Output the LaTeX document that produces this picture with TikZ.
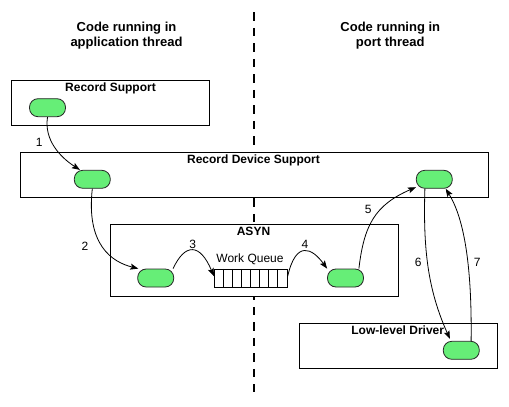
\documentclass[tikz,border=0pt]{standalone}
\usepackage{fontspec}
\setmainfont{Liberation Sans}
\usetikzlibrary{arrows.meta}
\definecolor{pillgreen}{RGB}{102,238,119}
\begin{document}
\begin{tikzpicture}[x=1pt,y=-1pt,
  layer/.style={draw=black,fill=white,line width=0.8pt,inner sep=0pt},
  layertitle/.style={font=\bfseries\fontsize{12}{14}\selectfont,anchor=base,inner sep=0pt},
  colhead/.style={font=\bfseries\fontsize{13}{15}\selectfont,anchor=base,inner sep=0pt},
  pill/.style={draw=black!85,fill=pillgreen,line width=0.8pt,rounded corners=8.5pt,
    minimum width=36pt,minimum height=18pt,inner sep=0pt},
  flow/.style={line width=0.8pt,-{Stealth[length=8pt,width=6pt,inset=1.5pt]}},
  stepno/.style={font=\fontsize{12}{14}\selectfont,inner sep=0pt},
  threadsep/.style={line width=2pt,dash pattern=on 8.5pt off 7pt}]
\useasboundingbox (0,0) rectangle (509,407);

% column headings
\node[colhead] (hl1) at (126.5,31) {Code running in};
\node[colhead] (hl2) at (126.5,46) {application thread};
\node[colhead] (hr1) at (390.3,31) {Code running in};
\node[colhead] (hr2) at (390.3,46) {port thread};

% boundary between the two threads
\coordinate (septop) at (254,12.3);
\coordinate (sepbot) at (254,392);
\draw[threadsep] (septop) -- (sepbot);

% software layers
\node[layer,minimum width=198pt,minimum height=45pt] (rs) at (110.7,102.8) {};
\node[layertitle] (rst) at (110.5,91.5) {Record Support};

\node[layer,minimum width=468pt,minimum height=45pt] (rds) at (254.7,174.8) {};
\node[layertitle] (rdst) at (253.5,163.3) {Record Device Support};

\node[layer,minimum width=288pt,minimum height=71.7pt] (asyn) at (254.7,260.2) {};
\node[layertitle] (asynt) at (253.5,235.3) {ASYN};

\node[layer,minimum width=198pt,minimum height=45pt] (lld) at (398.3,345.8) {};
\node[layertitle] (lldt) at (397.7,334.3) {Low-level Driver};

% work queue with eight slots
\node[draw=black,line width=0.8pt,minimum width=73pt,minimum height=17.7pt,inner sep=0pt] (queue) at (250.8,278.2) {};
\foreach \i in {1,...,7}
  \draw[line width=0.6pt] ([xshift=\i*9.125pt]queue.north west) -- ([xshift=\i*9.125pt]queue.south west);
\node[font=\fontsize{12}{14}\selectfont,anchor=base,inner sep=0pt] (wq) at (250,262.7) {Work Queue};

% entry points
\node[pill] (rsp) at (47.5,107.7) {};
\node[pill] (rdsL) at (92.3,179.3) {};
\node[pill] (rdsR) at (434.3,179.3) {};
\node[pill] (asL) at (155.7,278) {};
\node[pill] (asR) at (345.5,278) {};
\node[pill] (lldp) at (461.3,350.3) {};

% call sequence
\draw[flow] (rsp.south) .. controls (44,140) and (60,157) .. ([xshift=6pt]rdsL.north west);
\draw[flow] (rdsL.south) .. controls (86,245) and (112,262) .. ([xshift=1pt]asL.north west);
\draw[flow] ([xshift=-1pt]asL.north east) .. controls (185,243) and (200,243) .. ([yshift=2pt]queue.west);
\draw[flow] ([yshift=2pt]queue.east) .. controls (296,240) and (312,248) .. (asR.north west);
\draw[flow] ([xshift=-5pt]asR.north east) .. controls (364,225) and (375,205) .. ([yshift=1.5pt]rdsR.south west);
\draw[flow] ([xshift=9pt]rdsR.south west) .. controls (423,250) and (428,290) .. ([xshift=7pt,yshift=2pt]lldp.north west);
\draw[flow] ([xshift=-8.6pt]lldp.north east) .. controls (472,270) and (465,220) .. ([xshift=-7pt]rdsR.south east);

% step numbers
\node[stepno] (n1) at (39.3,142.7) {1};
\node[stepno] (n2) at (85,246.7) {2};
\node[stepno] (n3) at (192.7,244) {3};
\node[stepno] (n4) at (305,244) {4};
\node[stepno] (n5) at (368.3,209) {5};
\node[stepno] (n6) at (418.3,262) {6};
\node[stepno] (n7) at (477.3,262) {7};
\end{tikzpicture}
\end{document}
